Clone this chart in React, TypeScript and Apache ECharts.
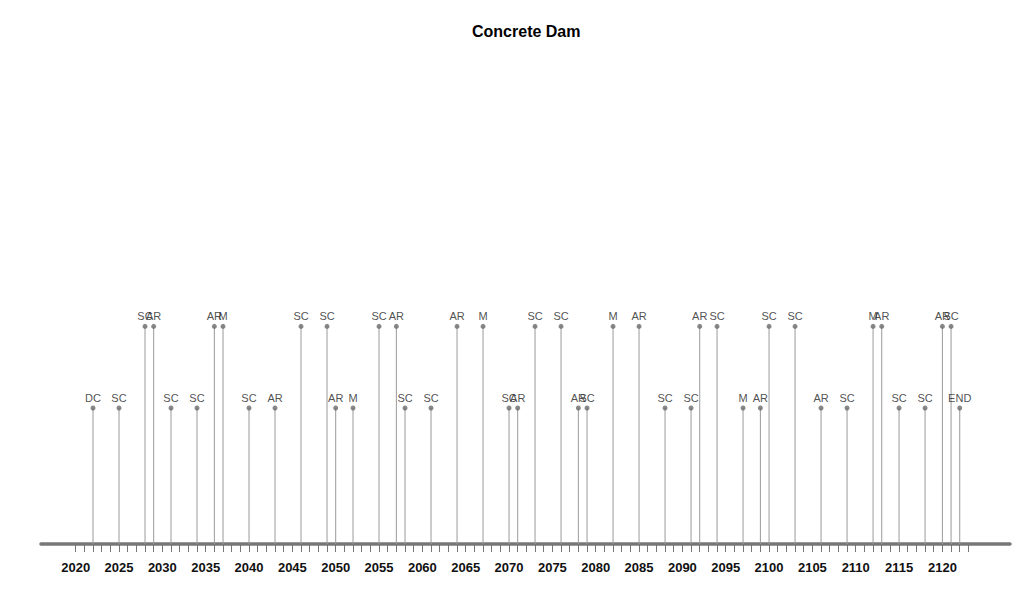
import { useEffect, useRef } from "react";
import * as echarts from "echarts";

// Event years along the timeline
const eventYears = [
  2022, 2025, 2028, 2029, 2031, 2034, 2036, 2037, 2040, 2043, 2046, 2049, 2050,
  2052, 2055, 2057, 2058, 2061, 2064, 2067, 2070, 2071, 2073, 2076, 2078, 2079,
  2082, 2085, 2088, 2091, 2092, 2094, 2097, 2099, 2100, 2103, 2106, 2109, 2112,
  2113, 2115, 2118, 2120, 2121, 2122,
];

// Event codes shown above each stem
const eventCodes = [
  "DC", "SC", "SC", "AR", "SC", "SC", "AR", "M", "SC", "AR", "SC", "SC", "AR",
  "M", "SC", "AR", "SC", "SC", "AR", "M", "SC", "AR", "SC", "SC", "AR", "SC",
  "M", "AR", "SC", "SC", "AR", "SC", "M", "AR", "SC", "SC", "AR", "SC", "M",
  "AR", "SC", "SC", "AR", "SC", "END",
];

// Stem heights: 1 = short, 1.6 = tall
const stemHeights = [
  1, 1, 1.6, 1.6, 1, 1, 1.6, 1.6, 1, 1, 1.6, 1.6, 1,
  1, 1.6, 1.6, 1, 1, 1.6, 1.6, 1, 1, 1.6, 1.6, 1, 1,
  1.6, 1.6, 1, 1, 1.6, 1.6, 1, 1, 1.6, 1.6, 1, 1, 1.6,
  1.6, 1, 1, 1.6, 1.6, 1,
];

// Year labels under the axis
const labelYears = [
  2020, 2025, 2030, 2035, 2040, 2045, 2050, 2055, 2060, 2065, 2070, 2075, 2080,
  2085, 2090, 2095, 2100, 2105, 2110, 2115, 2120,
];

// Small ticks, one per year
const firstTick = 2020;
const lastTick = 2123;

const FONT = "Liberation Sans, Arial, sans-serif";

export default function App() {
  const chartRef = useRef<HTMLDivElement>(null);

  useEffect(() => {
    if (!chartRef.current) return;
    const chart = echarts.init(chartRef.current, null, { renderer: "svg" });

    const tickYears: number[] = [];
    for (let y = firstTick; y <= lastTick; y++) tickYears.push(y);

    const points = eventYears.map((yr, i) => [yr, stemHeights[i]]);

    chart.setOption({
      animation: false,
      backgroundColor: "#ffffff",
      textStyle: { fontFamily: FONT },
      title: {
        text: "Concrete Dam",
        left: 467,
        top: 18,
        textStyle: {
          fontSize: 16,
          fontWeight: "bold",
          color: "#000000",
          fontFamily: FONT,
        },
      },
      grid: { left: 41, right: 14, top: 272, bottom: 60 },
      xAxis: {
        type: "value",
        min: 2016,
        max: 2127.8,
        axisLine: {
          show: true,
          lineStyle: { color: "#777777", width: 3.5 },
        },
        axisTick: {
          show: true,
          customValues: tickYears,
          length: 8,
          lineStyle: { color: "#777777", width: 1 },
        },
        axisLabel: {
          customValues: labelYears,
          margin: 17,
          fontSize: 13,
          fontWeight: "bold",
          color: "#111111",
          fontFamily: FONT,
          formatter: (v: number) => String(v),
        },
        splitLine: { show: false },
      },
      yAxis: {
        type: "value",
        min: 0,
        max: 2,
        show: false,
        splitLine: { show: false },
      },
      series: [
        {
          type: "bar",
          barWidth: 1,
          data: points,
          itemStyle: { color: "#9a9a9a" },
          silent: true,
        },
        {
          type: "scatter",
          symbol: "circle",
          symbolSize: 5,
          data: points,
          itemStyle: { color: "#6a6a6a" },
          label: {
            show: true,
            position: "top",
            distance: 2,
            fontSize: 11,
            color: "#222222",
            fontFamily: FONT,
            formatter: (p: { dataIndex: number }) => eventCodes[p.dataIndex],
          },
        },
      ],
    });

    return () => {
      chart.dispose();
    };
  }, []);

  return (
    <div
      ref={chartRef}
      style={{ position: "fixed", left: 0, top: 0, width: 1024, height: 604 }}
    />
  );
}
